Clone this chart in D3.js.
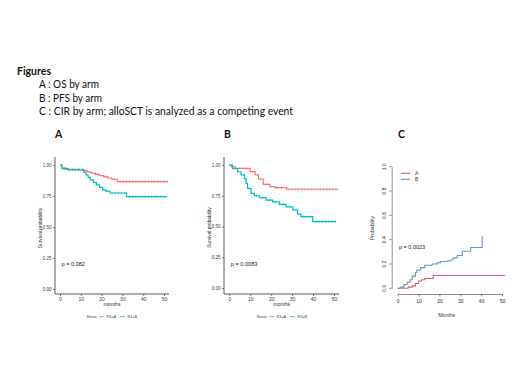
<!DOCTYPE html>
<html><head><meta charset="utf-8">
<script src="https://cdn.jsdelivr.net/npm/d3@7"></script>
<style>body{margin:0;background:#fff}svg{display:block}</style>
</head><body>
<svg id="c" width="520" height="390"></svg>
<script>
// ---------- text ----------
const headerTitle = "Figures";
const headerLines = ["A : OS by arm", "B : PFS by arm", "C : CIR by arm; alloSCT is analyzed as a competing event"];
const panelLabels = ["A", "B", "C"];
const strataLabels = ["R1=A", "R1=B"];
const pValues = ["p = 0.082", "p = 0.0083", "p = 0.0023"];
const cLegend = ["A", "B"];

// ---------- ticks ----------
const kmYTicks = [0, 0.25, 0.5, 0.75, 1];
const monthTicks = [0, 10, 20, 30, 40, 50];
const cirYTicks = [0, 0.2, 0.4, 0.6, 0.8, 1.0];

// ---------- A: OS ----------
const osA_t = [0, 1, 3, 11, 13, 15, 17, 19, 21, 23, 25, 27.5, 52];
const osA_s = [1.0, 0.975, 0.965, 0.955, 0.945, 0.935, 0.925, 0.915, 0.905, 0.895, 0.885, 0.866, 0.866];
const osA_c = [2, 6, 9, 14, 18, 22, 26, 29, 30.5, 32, 33.5, 35, 36.5, 38, 39.5, 41, 42.5, 44, 45.5, 47, 48.5, 50, 51.5];
const osB_t = [0, 1, 4, 11.5, 12.5, 13.5, 14.5, 16, 17.5, 19, 20.5, 22, 24, 32, 51.5];
const osB_s = [1.0, 0.97, 0.96, 0.94, 0.92, 0.90, 0.88, 0.86, 0.84, 0.82, 0.80, 0.79, 0.774, 0.745, 0.745];
const osB_c = [2.5, 7, 9, 25, 26.5, 28, 29.5, 31, 33.5, 35, 36.5, 38, 39.5, 41, 42.5, 44, 45.5, 47, 48.5, 50];

// ---------- B: PFS ----------
const pfsA_t = [0, 1, 3, 10, 12.3, 13.9, 16.2, 19.4, 21.8, 27.4, 52];
const pfsA_s = [1.0, 0.985, 0.973, 0.946, 0.92, 0.886, 0.843, 0.824, 0.816, 0.803, 0.803];
const pfsA_c = [5, 8, 15, 18, 23, 25, 28.5, 30, 31.5, 33, 34.5, 36, 37.5, 39, 40.5, 42, 43.5, 45, 46.5, 48, 49.5, 51];
const pfsB_t = [0, 1.6, 4, 5.6, 7.2, 8, 8.7, 10.4, 12, 14.4, 17.6, 20.7, 23.9, 27.1, 30.3, 32.6, 34.2, 39.8, 51];
const pfsB_s = [1.0, 0.97, 0.945, 0.92, 0.89, 0.85, 0.81, 0.77, 0.75, 0.735, 0.715, 0.70, 0.68, 0.66, 0.635, 0.60, 0.58, 0.54, 0.54];
const pfsB_c = [13, 16, 19, 22, 25.5, 29, 35.5, 37, 38.5, 41.5, 43, 44.5, 46, 47.5, 49, 50.5];

// ---------- C: CIR ----------
const cirA_t = [0, 5, 7, 8.5, 10, 11.5, 13, 17, 51.5];
const cirA_p = [0, 0.01, 0.02, 0.04, 0.06, 0.07, 0.08, 0.105, 0.105];
const cirB_t = [0, 1.5, 3, 4.5, 6, 7, 8.5, 9.2, 11, 13, 16.5, 19, 20.5, 24, 25.5, 26.5, 28.5, 31, 35, 40.5, 40.5];
const cirB_p = [0, 0.01, 0.03, 0.05, 0.07, 0.10, 0.13, 0.15, 0.17, 0.19, 0.20, 0.21, 0.22, 0.225, 0.235, 0.25, 0.27, 0.305, 0.335, 0.335, 0.43];

const RED = "#F8766D", TEAL = "#00BFC4";
const CRED = "#d9606a", CBLUE = "#6a9ac4";

const svg = d3.select("#c");

// header
svg.append("text").attr("x", 17).attr("y", 75).attr("font-family", "Lato, 'Open Sans', sans-serif")
  .attr("font-weight", "bold").attr("font-size", 10.5).attr("fill", "#111")
  .attr("textLength", 34).attr("lengthAdjust", "spacingAndGlyphs").text(headerTitle);
const headerLens = [60, 63, 254];
headerLines.forEach((t, i) => {
  svg.append("text").attr("x", 39).attr("y", 88.3 + i * 13.4)
    .attr("font-family", "Lato, 'Open Sans', sans-serif").attr("font-size", 10.5).attr("fill", "#111")
    .attr("textLength", headerLens[i]).attr("lengthAdjust", "spacingAndGlyphs").text(t);
});
const labelX = [55, 224, 398];
panelLabels.forEach((t, i) => {
  svg.append("text").attr("x", labelX[i]).attr("y", 137.5).attr("font-family", "Lato, 'Open Sans', sans-serif")
    .attr("font-weight", "bold").attr("font-size", 10.5).attr("fill", "#111").text(t);
});

const F = "'Liberation Sans', Arial, sans-serif";

function kmPanel(ox, yTop, yBot, x0, x50, series, pv, legendX) {
  const g = svg.append("g");
  const x = d3.scaleLinear().domain([0, 50]).range([x0, x50]);
  const y = d3.scaleLinear().domain([0, 1]).range([yBot, yTop]);
  // axis lines
  g.append("line").attr("x1", ox).attr("x2", ox).attr("y1", 157).attr("y2", 294).attr("stroke", "#333").attr("stroke-width", 0.8);
  g.append("line").attr("x1", ox).attr("x2", x(52.5)).attr("y1", 294).attr("y2", 294).attr("stroke", "#333").attr("stroke-width", 0.8);
  const ya = g.append("g").attr("transform", `translate(${ox},0)`)
    .call(d3.axisLeft(y).tickValues(kmYTicks).tickFormat(d3.format(".2f")).tickSize(2).tickPadding(1.5));
  ya.select(".domain").remove();
  ya.selectAll("line").attr("stroke", "#333").attr("stroke-width", 0.6);
  ya.selectAll("text").attr("font-family", F).attr("font-size", 4.5).attr("fill", "#444");
  const xa = g.append("g").attr("transform", `translate(0,294)`)
    .call(d3.axisBottom(x).tickValues(monthTicks).tickSize(2).tickPadding(1.5));
  xa.select(".domain").remove();
  xa.selectAll("line").attr("stroke", "#333").attr("stroke-width", 0.6);
  xa.selectAll("text").attr("font-family", F).attr("font-size", 5).attr("fill", "#444");
  g.append("text").attr("x", (x0 + x50) / 2).attr("y", 306).attr("text-anchor", "middle")
    .attr("font-family", F).attr("font-size", 5.2).attr("fill", "#333").text("months");
  g.append("text").attr("transform", `translate(${ox - 13.5},${(yTop + yBot) / 2 + 1}) rotate(-90)`)
    .attr("text-anchor", "middle").attr("font-family", F).attr("font-size", 4.8).attr("fill", "#333").text("Survival probability");
  const line = d3.line().x(d => x(d[0])).y(d => y(d[1])).curve(d3.curveStepAfter);
  series.forEach(s => {
    const pts = s.t.map((t, i) => [t, s.s[i]]);
    g.append("path").attr("d", line(pts)).attr("fill", "none").attr("stroke", s.col).attr("stroke-width", 1.2);
    const val = t => { let v = s.s[0]; s.t.forEach((tt, i) => { if (tt <= t) v = s.s[i]; }); return v; };
    g.selectAll(null).data(s.c).join("line")
      .attr("x1", d => x(d)).attr("x2", d => x(d))
      .attr("y1", d => y(val(d)) - 1.3).attr("y2", d => y(val(d)) + 1.3)
      .attr("stroke", s.col).attr("stroke-width", 0.6);
  });
  g.append("text").attr("x", x0 + 1.5).attr("y", 265.5).attr("font-family", F).attr("font-size", 5.6).attr("fill", "#222").text(pv);
  // legend
  const lg = g.append("g").attr("font-family", F).attr("font-size", 3.8).attr("fill", "#444");
  lg.append("text").attr("x", legendX).attr("y", 318).text("Strata");
  lg.append("line").attr("x1", legendX + 12.5).attr("x2", legendX + 17.5).attr("y1", 316.7).attr("y2", 316.7).attr("stroke", RED).attr("stroke-width", 0.8);
  lg.append("text").attr("x", legendX + 20).attr("y", 318).text(strataLabels[0]);
  lg.append("line").attr("x1", legendX + 33.5).attr("x2", legendX + 38.5).attr("y1", 316.7).attr("y2", 316.7).attr("stroke", TEAL).attr("stroke-width", 0.8);
  lg.append("text").attr("x", legendX + 41).attr("y", 318).text(strataLabels[1]);
}

kmPanel(55, 165, 289, 60, 164, [
  { t: osA_t, s: osA_s, c: osA_c, col: RED },
  { t: osB_t, s: osB_s, c: osB_c, col: TEAL }
], pValues[0], 86.5);

kmPanel(224, 165, 288, 229.3, 334, [
  { t: pfsA_t, s: pfsA_s, c: pfsA_c, col: RED },
  { t: pfsB_t, s: pfsB_s, c: pfsB_c, col: TEAL }
], pValues[1], 256.5);

// panel C
(function () {
  const g = svg.append("g");
  const x = d3.scaleLinear().domain([0, 50]).range([397.7, 502]);
  const y = d3.scaleLinear().domain([0, 1]).range([288.3, 166.7]);
  const ya = g.append("g").attr("transform", "translate(391.7,0)")
    .call(d3.axisLeft(y).tickValues(cirYTicks).tickFormat(d3.format(".1f")).tickSize(2.5).tickSizeOuter(0).tickPadding(1.5));
  ya.selectAll("path,line").attr("stroke", "#444").attr("stroke-width", 0.6);
  ya.selectAll("text").attr("font-family", F).attr("font-size", 5).attr("fill", "#333")
    .attr("text-anchor", "middle").attr("transform", "rotate(-90)").attr("x", 0).attr("dy", 0)
    .each(function (d) { d3.select(this).attr("transform", `translate(-6,${y(d)}) rotate(-90)`).attr("y", 0); });
  ya.selectAll(".tick").attr("transform", null);
  ya.selectAll(".tick line").attr("y1", d => y(d)).attr("y2", d => y(d)).attr("x2", -2.5);
  const xa = g.append("g").attr("transform", "translate(0,294)")
    .call(d3.axisBottom(x).tickValues(monthTicks).tickSize(2.5).tickSizeOuter(0).tickPadding(2.5));
  xa.selectAll("path,line").attr("stroke", "#444").attr("stroke-width", 0.6);
  xa.selectAll("text").attr("font-family", F).attr("font-size", 5).attr("fill", "#333");
  g.append("text").attr("x", 446.7).attr("y", 317).attr("text-anchor", "middle")
    .attr("font-family", F).attr("font-size", 5.2).attr("fill", "#333").text("Months");
  g.append("text").attr("transform", "translate(373.5,228) rotate(-90)").attr("text-anchor", "middle")
    .attr("font-family", F).attr("font-size", 5.2).attr("fill", "#333").text("Probability");
  const line = d3.line().x(d => x(d[0])).y(d => y(d[1])).curve(d3.curveStepAfter);
  g.append("path").attr("d", line(cirA_t.map((t, i) => [t, cirA_p[i]]))).attr("fill", "none").attr("stroke", CRED).attr("stroke-width", 1.1);
  g.append("path").attr("d", line(cirB_t.map((t, i) => [t, cirB_p[i]]))).attr("fill", "none").attr("stroke", CBLUE).attr("stroke-width", 1.1);
  g.append("text").attr("x", 399).attr("y", 249).attr("font-family", F).attr("font-size", 5.5).attr("fill", "#222").text(pValues[2]);
  [CRED, CBLUE].forEach((col, i) => {
    g.append("line").attr("x1", 400.7).attr("x2", 410).attr("y1", 173.3 + i * 6).attr("y2", 173.3 + i * 6).attr("stroke", col).attr("stroke-width", 1.1);
    g.append("text").attr("x", 415).attr("y", 175.2 + i * 6).attr("font-family", F).attr("font-size", 5).attr("fill", "#333").text(cLegend[i]);
  });
})();
</script>
</body></html>
